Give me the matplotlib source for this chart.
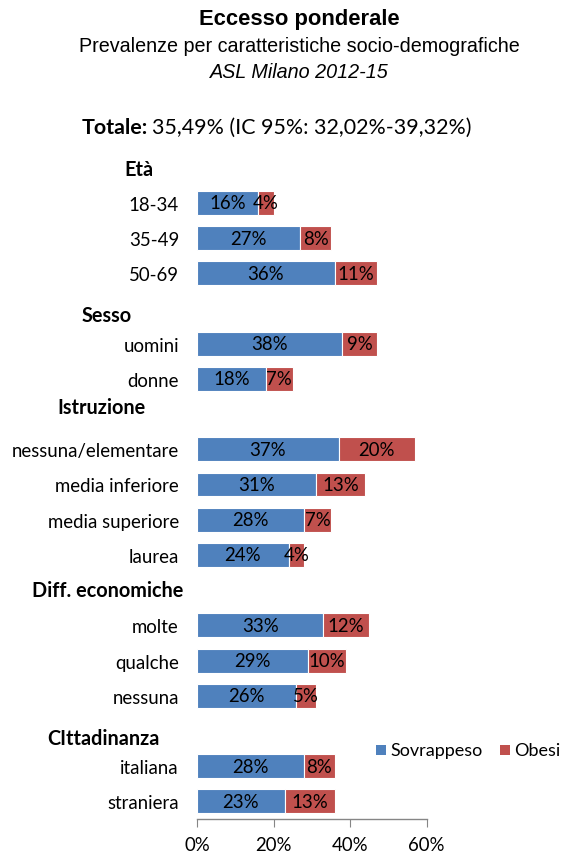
import matplotlib
matplotlib.use("Agg")
import matplotlib.pyplot as plt
import matplotlib.transforms as mtrans
from matplotlib.patches import Rectangle

# ---- data ----
rows = ["", "18-34", "35-49", "50-69", "", "uomini", "donne", "",
        "nessuna/elementare", "media inferiore", "media superiore", "laurea", "",
        "molte", "qualche", "nessuna", "", "italiana", "straniera"]
sovrappeso = [None, 16, 27, 36, None, 38, 18, None, 37, 31, 28, 24, None, 33, 29, 26, None, 28, 23]
obesi = [None, 4, 8, 11, None, 9, 7, None, 20, 13, 7, 4, None, 12, 10, 5, None, 8, 13]
headers = ["Età", "Sesso", "Istruzione", "Diff. economiche", "CIttadinanza"]
header_rows = [0, 4, 7, 12, 16]
xticks = [0, 20, 40, 60]
xticklabels = ["0%", "20%", "40%", "60%"]

BLUE = "#4F81BD"
RED = "#C0504D"
CAL = ["Lato", "DejaVu Sans"]
ARIAL = ["Liberation Sans", "DejaVu Sans"]
FS = 13.4

W, H = 563, 854
fig = plt.figure(figsize=(W / 100, H / 100), dpi=100)
fig.patch.set_facecolor("white")

ax = fig.add_axes([197 / W, 1 - 820 / H, 229.5 / W, 669 / H])
ax.set_xlim(0, 60)
ax.set_ylim(len(rows) - 0.5, -0.5)

bh = 0.68
for i, (s, o) in enumerate(zip(sovrappeso, obesi)):
    if s is None:
        continue
    ax.barh(i, s, height=bh, color=BLUE, edgecolor="white", linewidth=0.8)
    ax.barh(i, o, left=s, height=bh, color=RED, edgecolor="white", linewidth=0.8)
    ax.text(s / 2, i, f"{s}%", ha="center", va="center", fontsize=FS, family=CAL, color="black")
    ax.text(s + o / 2, i, f"{o}%", ha="center", va="center", fontsize=FS, family=CAL, color="black")

ax.set_yticks(range(len(rows)))
ax.set_yticklabels(rows, family=CAL, fontsize=FS)
ax.tick_params(axis="y", length=0, pad=13)
ax.set_xticks(xticks)
ax.set_xticklabels(xticklabels, family=CAL, fontsize=FS)
ax.tick_params(axis="x", direction="out", length=6, color="#868686", pad=6)
for sp in ["left", "right", "top"]:
    ax.spines[sp].set_visible(False)
ax.spines["bottom"].set_color("#868686")
ax.spines["bottom"].set_linewidth(1.0)

# headers
header_x = [124, 82, 57, 32, 47]
header_dy = [0.05, 0.2, -0.2, 0.0, 0.2]
trans = mtrans.blended_transform_factory(fig.transFigure, ax.transData)
for name, r, hx, dy in zip(headers, header_rows, header_x, header_dy):
    ax.text(hx / W, r + dy, name, transform=trans, ha="left", va="center",
            fontsize=14.3, family=CAL, fontweight="bold", clip_on=False)

# titles
fig.text(299 / W, 1 - 20 / H, "Eccesso ponderale", ha="center", va="center",
         fontsize=15.8, fontweight="bold", family=ARIAL)
fig.text(299 / W, 1 - 46 / H, "Prevalenze per caratteristiche socio-demografiche", ha="center",
         va="center", fontsize=14.2, family=ARIAL)
fig.text(299 / W, 1 - 72 / H, "ASL Milano 2012-15", ha="center", va="center",
         fontsize=14.2, family=ARIAL, style="italic")

t1 = fig.text(82 / W, 1 - 128 / H, "Totale:", ha="left", va="center", fontsize=15.4,
              family=CAL, fontweight="bold")
fig.canvas.draw()
bb = t1.get_window_extent()
fig.text(bb.x1 / W + 4 / W, 1 - 128 / H, "35,49% (IC 95%: 32,02%-39,32%)", ha="left", va="center",
         fontsize=15.4, family=CAL)

# legend
LFS = 13.0
fig.patches.append(Rectangle((376 / W, 1 - 756 / H), 10 / W, 10 / H, transform=fig.transFigure,
                             facecolor=BLUE, edgecolor="none"))
fig.text(390 / W, 1 - 751 / H, "Sovrappeso", ha="left", va="center", fontsize=LFS, family=CAL)
fig.patches.append(Rectangle((500 / W, 1 - 756 / H), 10 / W, 10 / H, transform=fig.transFigure,
                             facecolor=RED, edgecolor="none"))
fig.text(514 / W, 1 - 751 / H, "Obesi", ha="left", va="center", fontsize=LFS, family=CAL)

fig.savefig("out.png", dpi=100, facecolor="white")
